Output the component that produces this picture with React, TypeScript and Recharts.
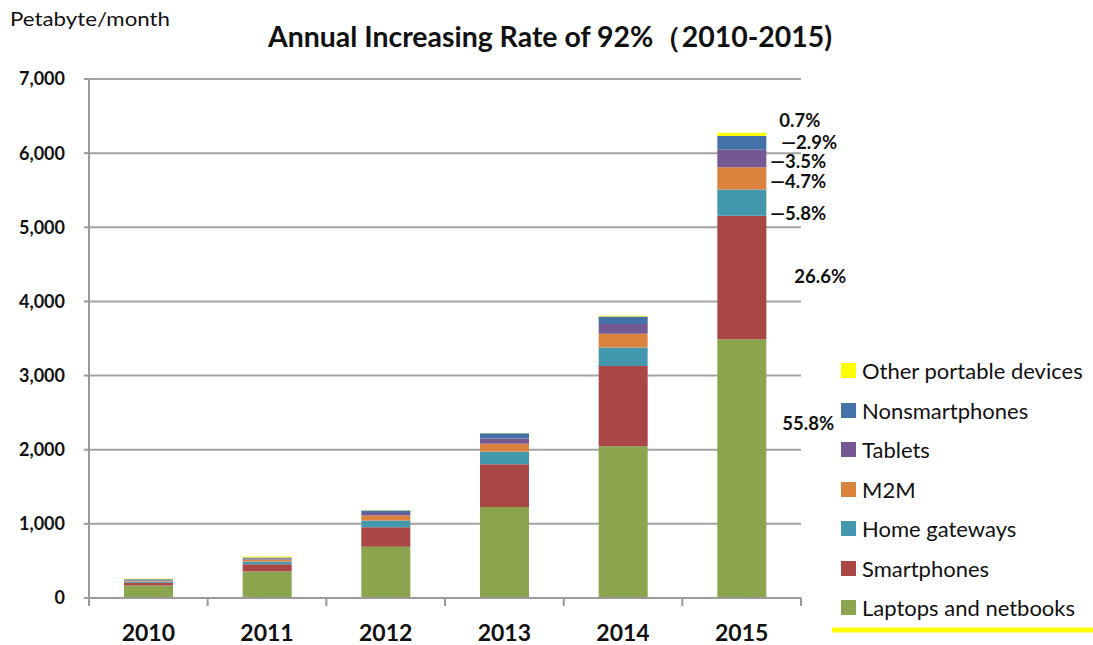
import { Bar, BarChart, CartesianGrid, LabelList, Legend, XAxis, YAxis } from "recharts";

// values, petabyte per month
const years = ["2010", "2011", "2012", "2013", "2014", "2015"];
const laptops = [168, 357, 690, 1228, 2046, 3490];
const smartphones = [36, 98, 264, 576, 1083, 1665];
const homeGateways = [18, 37, 90, 170, 251, 355];
const m2m = [10, 27, 68, 108, 185, 300];
const tablets = [8, 13, 36, 68, 130, 235];
const nonsmartphones = [12, 14, 31, 73, 103, 185];
const otherPortable = [8, 13, 4, 3, 10, 45];
const yTicks = [0, 1000, 2000, 3000, 4000, 5000, 6000, 7000];

// shares printed beside the 2015 bar, bottom segment first
const shareLabels = ["55.8%", "26.6%", "\u20145.8%", "\u20144.7%", "\u20143.5%", "\u20142.9%", "0.7%"];

const series = [
    { key: "laptops", name: "Laptops and netbooks", color: "#8aa54e", values: laptops },
    { key: "smartphones", name: "Smartphones", color: "#a84746", values: smartphones },
    { key: "homeGateways", name: "Home gateways", color: "#4398ae", values: homeGateways },
    { key: "m2m", name: "M2M", color: "#dc823f", values: m2m },
    { key: "tablets", name: "Tablets", color: "#735891", values: tablets },
    { key: "nonsmartphones", name: "Nonsmartphones", color: "#4472a8", values: nonsmartphones },
    { key: "other", name: "Other portable devices", color: "#ffff00", values: otherPortable },
];

// where each share label sits relative to its segment
const labelPlace = [
    { at: "top", dx: 16, dy: 91 },
    { at: "middle", dx: 28, dy: 5 },
    { at: "bottom", dx: 4, dy: 4 },
    { at: "bottom", dx: 4, dy: -1 },
    { at: "bottom", dx: 4, dy: 1 },
    { at: "bottom", dx: 15, dy: -1 },
    { at: "top", dx: 13, dy: -6 },
];

const W = 1093;
const H = 645;
const margin = { top: 79, right: 292, bottom: 2, left: 9 };
const yAxisWidth = 80;
const xAxisHeight = 45;
const plotWidth = W - margin.left - margin.right - yAxisWidth;
const band = plotWidth / years.length;
const font = "Lato, 'Open Sans', sans-serif";
const axisGrey = "#9a9a9a";

const data = years.map((year, i) => {
    const row: Record<string, string | number> = { year };
    series.forEach((s) => (row[s.key] = s.values[i]));
    return row;
});

function XTick(props: any) {
    const { x, y, payload, index } = props;
    return (
        <g>
            <line x1={x - band / 2} x2={x - band / 2} y1={y - 8} y2={y} stroke={axisGrey} strokeWidth={2} />
            {index === years.length - 1 && (
                <line x1={x + band / 2} x2={x + band / 2} y1={y - 8} y2={y} stroke={axisGrey} strokeWidth={2} />
            )}
            <text x={x} y={y + 35} textAnchor="middle" fontFamily={font} fontWeight="bold" fontSize={23} fill="#111">
                {payload.value}
            </text>
        </g>
    );
}

function shareLabel(si: number) {
    return (props: any) => {
        const vb = props.viewBox || props;
        const { x, y, width, height } = vb;
        if (props.index !== years.length - 1) return null;
        const p = labelPlace[si];
        const base = p.at === "top" ? y : p.at === "bottom" ? y + height : y + height / 2;
        return (
            <text x={x + width + p.dx} y={base + p.dy} fontFamily={font} fontWeight="bold" fontSize={18.5} fill="#111">
                {shareLabels[si]}
            </text>
        );
    };
}

function LegendBox() {
    const rows = [...series].reverse();
    return (
        <div style={{ fontFamily: font, fontSize: 22, color: "#111" }}>
            {rows.map((s) => (
                <div key={s.key} style={{ height: 39.5, display: "flex", alignItems: "center", whiteSpace: "nowrap" }}>
                    <span style={{ width: 15, height: 15, background: s.color, display: "inline-block", marginRight: 6, flex: "none" }} />
                    <span>{s.name}</span>
                </div>
            ))}
        </div>
    );
}

export default function App() {
    return (
        <div style={{ position: "absolute", left: 0, top: 0, width: W, height: H, background: "#fff" }}>
            <BarChart width={W} height={H} data={data} margin={margin} barSize={49}>
                <CartesianGrid vertical={false} stroke="#a3a3a3" strokeWidth={2} />
                <XAxis
                    dataKey="year"
                    height={xAxisHeight}
                    axisLine={{ stroke: axisGrey, strokeWidth: 2 }}
                    tickLine={false}
                    tickSize={8}
                    tickMargin={0}
                    tick={<XTick />}
                    interval={0}
                />
                <YAxis
                    width={yAxisWidth}
                    domain={[0, 7000]}
                    ticks={yTicks}
                    interval={0}
                    axisLine={{ stroke: axisGrey, strokeWidth: 2 }}
                    tickLine={{ stroke: axisGrey, strokeWidth: 2 }}
                    tickSize={5}
                    tickMargin={19}
                    tick={{ fontFamily: font, fontWeight: "bold", fontSize: 18, fill: "#111" }}
                    tickFormatter={(v: number) => v.toLocaleString("en-US")}
                />
                <Legend
                    layout="horizontal"
                    align="center"
                    verticalAlign="middle"
                    content={<LegendBox />}
                    wrapperStyle={{ left: 841, top: 351, width: 252, height: 280 }}
                />
                {series.map((s, si) => (
                    <Bar key={s.key} dataKey={s.key} name={s.name} stackId="t" fill={s.color} isAnimationActive={false}>
                        <LabelList dataKey={s.key} content={shareLabel(si)} />
                    </Bar>
                ))}
            </BarChart>
            <svg width={W} height={H} style={{ position: "absolute", left: 0, top: 0, pointerEvents: "none" }}>
                <text x={10} y={26} fontFamily={font} fontSize={19} fill="#111" textLength={160} lengthAdjust="spacingAndGlyphs">
                    Petabyte/month
                </text>
                <text
                    x={268}
                    y={47}
                    fontFamily={font}
                    fontWeight="bold"
                    fontSize={28}
                    fill="#111"
                    textLength={564}
                    lengthAdjust="spacingAndGlyphs"
                >
                    Annual Increasing Rate of 92%（2010-2015)
                </text>
                <line x1={832} x2={1093} y1={630} y2={630} stroke="#ffff00" strokeWidth={5} />
            </svg>
        </div>
    );
}
